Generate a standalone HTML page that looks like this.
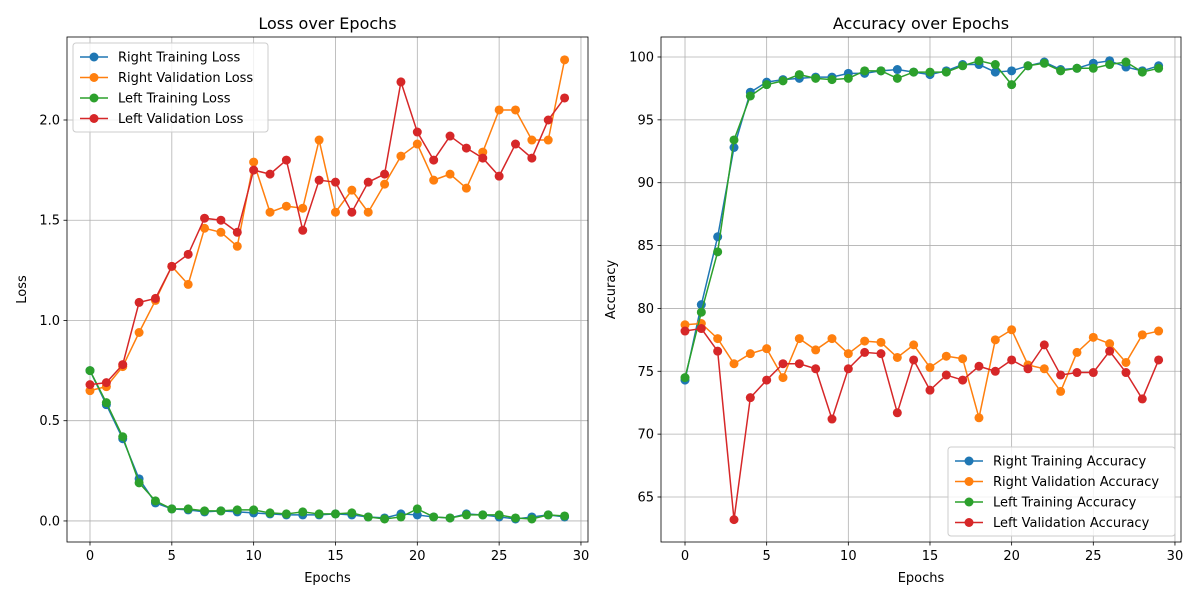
<!DOCTYPE html>
<html><head><meta charset="utf-8"><style>
body{margin:0;background:#fff;}
svg{font-family:"DejaVu Sans","Liberation Sans",sans-serif;}
</style></head><body>
<svg id="c" width="1200" height="600" xmlns="http://www.w3.org/2000/svg"></svg>
<script>
const epochs = Array.from({length:30},(_,i)=>i);
const rightTrainLoss=[0.75,0.58,0.41,0.21,0.09,0.06,0.055,0.045,0.05,0.045,0.04,0.035,0.03,0.03,0.03,0.035,0.03,0.02,0.015,0.035,0.03,0.02,0.015,0.035,0.03,0.02,0.01,0.02,0.03,0.02];
const rightValLoss=[0.65,0.67,0.77,0.94,1.10,1.27,1.18,1.46,1.44,1.37,1.79,1.54,1.57,1.56,1.90,1.54,1.65,1.54,1.68,1.82,1.88,1.70,1.73,1.66,1.84,2.05,2.05,1.90,1.90,2.30];
const leftTrainLoss=[0.75,0.59,0.42,0.19,0.10,0.06,0.06,0.05,0.05,0.055,0.055,0.04,0.035,0.045,0.035,0.035,0.04,0.02,0.01,0.02,0.06,0.02,0.015,0.03,0.03,0.03,0.015,0.01,0.03,0.025];
const leftValLoss=[0.68,0.69,0.78,1.09,1.11,1.27,1.33,1.51,1.50,1.44,1.75,1.73,1.80,1.45,1.70,1.69,1.54,1.69,1.73,2.19,1.94,1.80,1.92,1.86,1.81,1.72,1.88,1.81,2.00,2.11];
const rightTrainAcc=[74.3,80.3,85.7,92.8,97.2,98.0,98.2,98.3,98.4,98.4,98.7,98.7,98.9,99.0,98.8,98.6,98.9,99.4,99.4,98.8,98.9,99.3,99.6,99.0,99.1,99.5,99.7,99.2,98.9,99.3];
const rightValAcc=[78.7,78.8,77.6,75.6,76.4,76.8,74.5,77.6,76.7,77.6,76.4,77.4,77.3,76.1,77.1,75.3,76.2,76.0,71.3,77.5,78.3,75.5,75.2,73.4,76.5,77.7,77.2,75.7,77.9,78.2];
const leftTrainAcc=[74.5,79.7,84.5,93.4,96.9,97.8,98.1,98.6,98.3,98.2,98.3,98.9,98.9,98.3,98.8,98.8,98.8,99.3,99.7,99.4,97.8,99.3,99.5,98.9,99.1,99.1,99.4,99.6,98.8,99.1];
const leftValAcc=[78.2,78.4,76.6,63.2,72.9,74.3,75.6,75.6,75.2,71.2,75.2,76.5,76.4,71.7,75.9,73.5,74.7,74.3,75.4,75.0,75.9,75.2,77.1,74.7,74.9,74.9,76.6,74.9,72.8,75.9];
const xTicks=[0,5,10,15,20,25,30];
const lossTicks=[0,0.5,1.0,1.5,2.0];
const accTicks=[65,70,75,80,85,90,95,100];

const NS="http://www.w3.org/2000/svg";
const svg=document.getElementById('c');
function el(t,a,p){const e=document.createElementNS(NS,t);for(const k in a)e.setAttribute(k,a[k]);(p||svg).appendChild(e);return e;}
const colors=['#1f77b4','#ff7f0e','#2ca02c','#d62728'];

function panel(cfg){
  const g=el('g',{});
  
  
  const sx=v=>cfg.x0+(v-cfg.xd[0])/(cfg.xd[1]-cfg.xd[0])*(cfg.x1-cfg.x0);
  const sy=v=>cfg.y1-(v-cfg.yd[0])/(cfg.yd[1]-cfg.yd[0])*(cfg.y1-cfg.y0);
  xTicks.forEach(t=>{const x=sx(t);
    el('line',{x1:x,x2:x,y1:cfg.y0,y2:cfg.y1,stroke:'#b0b0b0','stroke-width':0.8},g);
    el('line',{x1:x,x2:x,y1:cfg.y1,y2:cfg.y1+3.5,stroke:'#000','stroke-width':0.8},g);
    const tx=el('text',{x:x,y:cfg.y1+18,'text-anchor':'middle','font-size':13},g);tx.textContent=t;
    });
  cfg.yt.forEach(t=>{const y=sy(t);
    el('line',{x1:cfg.x0,x2:cfg.x1,y1:y,y2:y,stroke:'#b0b0b0','stroke-width':0.8},g);
    el('line',{x1:cfg.x0-3.5,x2:cfg.x0,y1:y,y2:y,stroke:'#000','stroke-width':0.8},g);
    const tx=el('text',{x:cfg.x0-7,y:y+4.5,'text-anchor':'end','font-size':13},g);tx.textContent=cfg.fmt(t);
    });
  cfg.series.forEach((s,i)=>{
    const pts=s.map((v,j)=>sx(epochs[j])+','+sy(v)).join(' ');
    const sg=el('g',{},g);
    
    
    el('polyline',{points:pts,fill:'none',stroke:colors[i],'stroke-width':1.5},sg);
    s.forEach((v,j)=>{const c=el('circle',{cx:sx(epochs[j]),cy:sy(v),r:4.5,fill:colors[i]},sg);
      });
  });
  el('rect',{x:cfg.x0,y:cfg.y0,width:cfg.x1-cfg.x0,height:cfg.y1-cfg.y0,fill:'none',stroke:'#000','stroke-width':0.8},g);
  const ti=el('text',{x:(cfg.x0+cfg.x1)/2,y:cfg.y0-8,'text-anchor':'middle','font-size':16},g);ti.textContent=cfg.title;
  
  const xl=el('text',{x:(cfg.x0+cfg.x1)/2,y:582,'text-anchor':'middle','font-size':13},g);xl.textContent='Epochs';
  
  const yx=cfg.ylx, yy=(cfg.y0+cfg.y1)/2;
  const yl=el('text',{x:yx,y:yy,'text-anchor':'middle','font-size':13,transform:`rotate(-90 ${yx} ${yy})`},g);yl.textContent=cfg.ylabel;
  
  const L=cfg.leg;
  const lg=el('g',{},g);
  
  el('rect',{x:L.x,y:L.y,width:L.w,height:89,rx:3,fill:'#fff','fill-opacity':0.8,stroke:'#ccc'},lg);
  cfg.labels.forEach((lab,i)=>{const y=L.y+14+i*20.5;
    el('line',{x1:L.x+7,x2:L.x+35,y1:y,y2:y,stroke:colors[i],'stroke-width':1.5},lg);
    el('circle',{cx:L.x+21,cy:y,r:4.5,fill:colors[i]},lg);
    const t=el('text',{x:L.x+45,y:y+4.5,'font-size':13},lg);t.textContent=lab;
    });
}
panel({name:'loss-chart',x0:67,x1:588,y0:37,y1:542,xd:[-1.405,30.43],yd:[-0.105,2.414],yt:lossTicks,fmt:v=>v.toFixed(1),
  series:[rightTrainLoss,rightValLoss,leftTrainLoss,leftValLoss],title:'Loss over Epochs',ylabel:'Loss',ylx:26,
  labels:['Right Training Loss','Right Validation Loss','Left Training Loss','Left Validation Loss'],leg:{x:73,y:43,w:195}});
panel({name:'accuracy-chart',x0:661,x1:1181,y0:37,y1:542,xd:[-1.47,30.37],yd:[61.42,101.59],yt:accTicks,fmt:v=>v,
  series:[rightTrainAcc,rightValAcc,leftTrainAcc,leftValAcc],title:'Accuracy over Epochs',ylabel:'Accuracy',ylx:615,
  labels:['Right Training Accuracy','Right Validation Accuracy','Left Training Accuracy','Left Validation Accuracy'],leg:{x:948,y:447,w:227}});
</script>
</body></html>
